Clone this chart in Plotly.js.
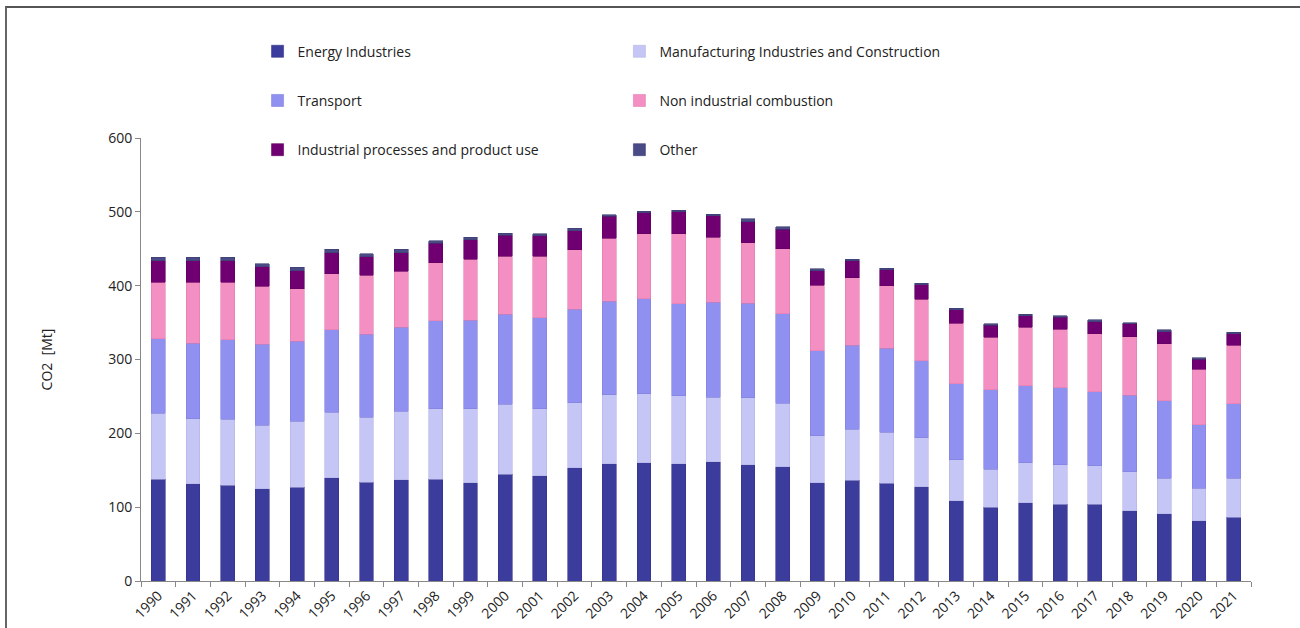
<!DOCTYPE html>
<html>
<head>
<meta charset="utf-8">
<script src="https://cdn.plot.ly/plotly-3.0.1.min.js"></script>
<style>
  html, body { margin: 0; padding: 0; background: #fff; }
  #chart { width: 1300px; height: 628px; }
  #frame { position: absolute; left: 5px; top: 6px; width: 1300px; height: 630px;
           border-top: 2px solid #555; border-left: 2px solid #666; pointer-events: none; }
</style>
</head>
<body>
<div id="chart"></div>
<div id="frame"></div>
<script>
const years = ["1990","1991","1992","1993","1994","1995","1996","1997","1998","1999","2000",
  "2001","2002","2003","2004","2005","2006","2007","2008","2009","2010","2011","2012","2013",
  "2014","2015","2016","2017","2018","2019","2020","2021"];

const energyIndustries = [137.8,131.4,130,125,127,140,134,137,138,133,144.6,
  142.7,153.5,158.5,160.3,158.5,161.7,157.2,154.9,133.2,136.4,132.4,127.4,108.4,
  99.9,106.1,103.9,103.9,95.3,90.8,81.7,86.3];
const manufacturing = [89.4,88.6,89,86,89.5,88.6,88,92.6,95,100,94.8,
  90.3,88,94,93,92.2,87.2,90.8,85.9,63.7,69.2,69.1,66.4,55.6,
  51.5,53.8,53.3,52.3,52.8,48.4,43.9,52.9];
const transport = [100.7,102,107.5,110,108,111.5,112,113.8,119.7,120,122,
  123.4,126.6,126.6,128.7,125,128.7,128.3,121,115,113.7,113.8,104.7,102.9,
  107.4,104.3,104.7,99.9,103.5,105.1,85.8,100.6];
const nonIndustrial = [76.8,82.7,78,78,71,76.3,80,76,78.6,82.6,78.6,
  83.6,80.3,85,88,94.5,88,82.1,88,88.7,91.7,84.4,83.2,82.3,
  71.4,79.6,79.1,78.6,79.4,77.2,75.5,79.6];
const industrialProcesses = [28.9,28.9,29,26.5,25,28.5,25,25.3,26.3,26.7,28,
  27.9,26.2,29.7,28.8,29.8,29,28.5,26.5,19.8,22.6,21.7,19.8,18,
  16.3,15.3,16.3,16.7,17.2,16.3,13.5,15.3];
const other = [5,5,5,4.5,4.5,4.6,4.5,4.6,3.5,3.5,2.7,
  2.7,3.2,2,2,2.3,1.8,3.6,3.3,2.7,2.3,2.3,1.9,2.3,
  1.7,2.2,1.8,2.3,1.8,2.3,2.2,2.3];

const seriesNames = ["Energy Industries","Manufacturing Industries and Construction","Transport",
  "Non industrial combustion","Industrial processes and product use","Other"];
const seriesValues = [energyIndustries, manufacturing, transport, nonIndustrial, industrialProcesses, other];
const seriesColors = ["#3c3c9c","#c6c6f6","#9090f0","#f38fc2","#700072","#4a4a86"];
const lineColors = ["#34348a","#b4b4e4","#8080dc","#e07fb0","#5e005f","#3e3e74"];
const legendIds = ["legend","legend2","legend","legend2","legend","legend2"];

const traces = seriesNames.map((name, i) => ({
  type: "bar",
  name: name,
  x: years,
  y: seriesValues[i],
  legend: legendIds[i],
  legendgroup: "g" + i,
  marker: { color: seriesColors[i], line: { color: lineColors[i], width: 0.6 } },
  hoverinfo: "x+y+name"
}));

const fontFam = "'Open Sans', Lato, sans-serif";
const legendCommon = {
  orientation: "v",
  traceorder: "grouped",
  tracegroupgap: 28,
  font: { family: fontFam, size: 14, color: "#222" },
  bgcolor: "rgba(0,0,0,0)",
  itemwidth: 30,
  yanchor: "top",
  xanchor: "left"
};

const layout = {
  width: 1300,
  height: 628,
  barmode: "stack",
  bargap: 0.6,
  paper_bgcolor: "#fff",
  plot_bgcolor: "#fff",
  margin: { l: 141, r: 49, t: 138, b: 47 },
  font: { family: fontFam, size: 14, color: "#222" },
  showlegend: true,
  legend: Object.assign({}, legendCommon, { x: 0.105, y: 1.231 }),
  legend2: Object.assign({}, legendCommon, { x: 0.431, y: 1.231 }),
  xaxis: {
    type: "category",
    tickangle: -45,
    tickson: "boundaries",
    ticks: "outside",
    ticklen: 5,
    tickcolor: "#888",
    showline: true,
    linecolor: "#888",
    linewidth: 1,
    showgrid: false,
    tickfont: { family: fontFam, size: 14, color: "#222" }
  },
  yaxis: {
    range: [0, 600],
    dtick: 100,
    ticks: "outside",
    ticklen: 5,
    tickcolor: "#888",
    showline: true,
    linecolor: "#888",
    linewidth: 1,
    showgrid: false,
    zeroline: false,
    tickfont: { family: fontFam, size: 14, color: "#222" },
    title: { text: "CO2  [Mt]", font: { family: fontFam, size: 14, color: "#222" }, standoff: 52 }
  }
};

Plotly.newPlot("chart", traces, layout, { displayModeBar: false, staticPlot: false });
</script>
</body>
</html>
